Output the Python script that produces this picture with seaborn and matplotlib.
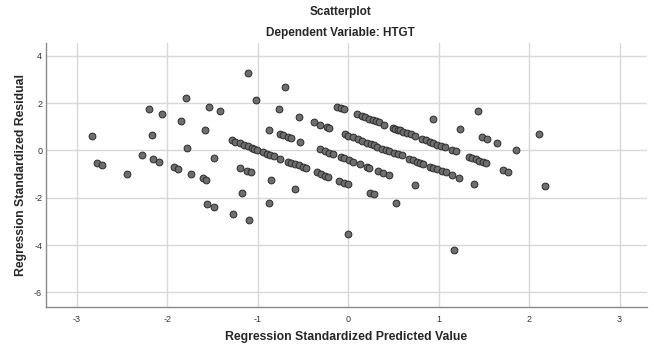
import numpy as np
import pandas as pd
import matplotlib
matplotlib.use("Agg")
import matplotlib.pyplot as plt
import seaborn as sns

# Regression Standardized Predicted Value / Regression Standardized Residual
# scattered points
pred_scatter = [
    -2.84, -2.78, -2.72, -2.45, -2.28, -2.20, -2.17, -2.16, -2.09, -2.06,
    -1.93, -1.88, -1.85, -1.80, -1.78, -1.74, -1.61, -1.59, -1.57, -1.56,
    -1.54, -1.48, -1.48, -1.42, -1.28, -1.20, -1.18, -1.12, -1.08, -1.11,
    -1.10, -1.02, -0.70, -0.77, -0.55, -0.88, -0.53, -0.86, -0.59, -0.88,
    0.53, 0.00, 0.74, 0.94, 1.44, 1.24, 1.48, 1.53, 1.65, 1.86,
    2.11, 2.18, 1.71, 1.77, 1.39, 1.17,
]
resid_scatter = [
    0.59, -0.52, -0.61, -1.00, -0.21, 1.73, 0.66, -0.38, -0.48, 1.55,
    -0.72, -0.79, 1.24, 2.20, 0.11, -0.99, -1.17, 0.86, -1.24, -2.28,
    1.83, -0.34, -2.41, 1.65, -2.69, -0.75, -1.81, -0.85, -0.92, 3.27,
    -2.96, 2.11, 2.66, 1.75, 1.41, 0.87, 0.35, -1.24, -1.62, -2.24,
    -2.22, -3.52, -1.48, 1.34, 1.65, 0.90, 0.56, 0.49, 0.30, 0.00,
    0.68, -1.51, -0.82, -0.92, -1.40, -4.19,
]

# points packed along the sloping bands
pred_band_a = [
    -0.12, -0.08, -0.05, 0.096, 0.148, 0.188, 0.232, 0.273, 0.310, 0.336,
    0.398, 0.491, 0.520, 0.553, 0.572, 0.608, 0.653, 0.694, 0.738, 0.812,
    0.860, 0.904, 0.940, 0.985, 1.029, 1.073, 1.150, 1.188, 1.338, 1.365,
    1.409, 1.449, 1.487, 1.527,
]
resid_band_a = [
    1.83, 1.78, 1.73, 1.52, 1.45, 1.40, 1.32, 1.27, 1.23, 1.20,
    1.08, 0.96, 0.91, 0.86, 0.85, 0.79, 0.72, 0.68, 0.60, 0.49,
    0.42, 0.35, 0.31, 0.24, 0.18, 0.13, 0.00, -0.04, -0.27, -0.31,
    -0.38, -0.45, -0.49, -0.55,
]

pred_band_b = [
    -0.38, -0.31, -0.24, -0.21, -0.037, -0.007, 0.055, 0.104, 0.155, 0.207,
    0.248, 0.281, 0.318, 0.370, 0.418, 0.451, 0.506, 0.546, 0.597, 0.671,
    0.712, 0.757, 0.793, 0.830, 0.904, 0.940, 0.985, 1.037, 1.077, 1.147,
    1.224,
]
resid_band_b = [
    1.18, 1.08, 0.97, 0.94, 0.68, 0.63, 0.55, 0.48, 0.39, 0.31,
    0.25, 0.21, 0.15, 0.08, 0.03, -0.03, -0.11, -0.17, -0.21, -0.37,
    -0.42, -0.48, -0.54, -0.58, -0.69, -0.74, -0.79, -0.88, -0.92, -1.03,
    -1.16,
]

pred_band_c = [
    -0.75, -0.72, -0.67, -0.63, -0.313, -0.254, -0.217, -0.173, -0.084, -0.044,
    0.004, 0.049, 0.129, 0.204, 0.232, 0.325, 0.384, 0.447,
]
resid_band_c = [
    0.68, 0.64, 0.58, 0.52, 0.04, -0.04, -0.10, -0.17, -0.28, -0.34,
    -0.41, -0.47, -0.59, -0.69, -0.74, -0.88, -0.96, -1.06,
]

pred_band_d = [
    -1.290, -1.253, -1.201, -1.157, -1.113, -1.069, -1.040, -1.007, -0.944, -0.903,
    -0.863, -0.825, -0.756, -0.667, -0.631, -0.590, -0.545, -0.498, -0.471, -0.346,
    -0.299, -0.254, -0.228, -0.103, -0.048, 0.000, 0.240, 0.281,
]
resid_band_d = [
    0.42, 0.36, 0.30, 0.24, 0.17, 0.11, 0.07, 0.00, -0.08, -0.14,
    -0.20, -0.24, -0.36, -0.48, -0.54, -0.58, -0.63, -0.71, -0.76, -0.93,
    -1.00, -1.09, -1.12, -1.30, -1.37, -1.42, -1.79, -1.85,
]

x_ticks = [-3, -2, -1, 0, 1, 2, 3]
y_ticks = [-6, -4, -2, 0, 2, 4]

df = pd.DataFrame({
    "pred": pred_scatter + pred_band_a + pred_band_b + pred_band_c + pred_band_d,
    "resid": resid_scatter + resid_band_a + resid_band_b + resid_band_c + resid_band_d,
})

sns.set_style("white")
plt.rcParams['font.family'] = ['Liberation Sans', 'DejaVu Sans']
plt.rcParams['axes.unicode_minus'] = False

fig = plt.figure(figsize=(6.54, 3.47), dpi=100)
ax = fig.add_axes([0.0708, 0.1167, 0.918, 0.760])

sns.scatterplot(data=df, x="pred", y="resid", ax=ax, s=24,
                color="#6e6e6e", edgecolor="#2b2b2b", linewidth=0.7, zorder=3)

ax.set_xlim(-3.34, 3.30)
ax.set_ylim(-6.6, 4.55)
ax.set_xticks(x_ticks)
ax.set_yticks(y_ticks)
ax.grid(True, color="#d8d8d8", linewidth=1.0)
ax.set_axisbelow(True)
ax.tick_params(length=0, labelsize=6.5, labelcolor="#333333")
ax.tick_params(axis="x", pad=6)
ax.tick_params(axis="y", pad=3)

for side in ["top", "right"]:
    ax.spines[side].set_visible(False)
for side in ["left", "bottom"]:
    ax.spines[side].set_color("#8a8a8a")
    ax.spines[side].set_linewidth(1.0)

ax.set_xlabel("Regression Standardized Predicted Value", fontsize=8.8,
              fontweight="bold", labelpad=5)
ax.set_ylabel("Regression Standardized Residual", fontsize=8.8,
              fontweight="bold", labelpad=5)

fig.text(0.5 + 0.02, 0.965, "Scatterplot", ha="center", va="center",
         fontsize=8.5, fontweight="bold")
fig.text(0.5 + 0.02, 0.905, "Dependent Variable: HTGT", ha="center",
         va="center", fontsize=8.5, fontweight="bold")

fig.savefig("out.png", dpi=100)
